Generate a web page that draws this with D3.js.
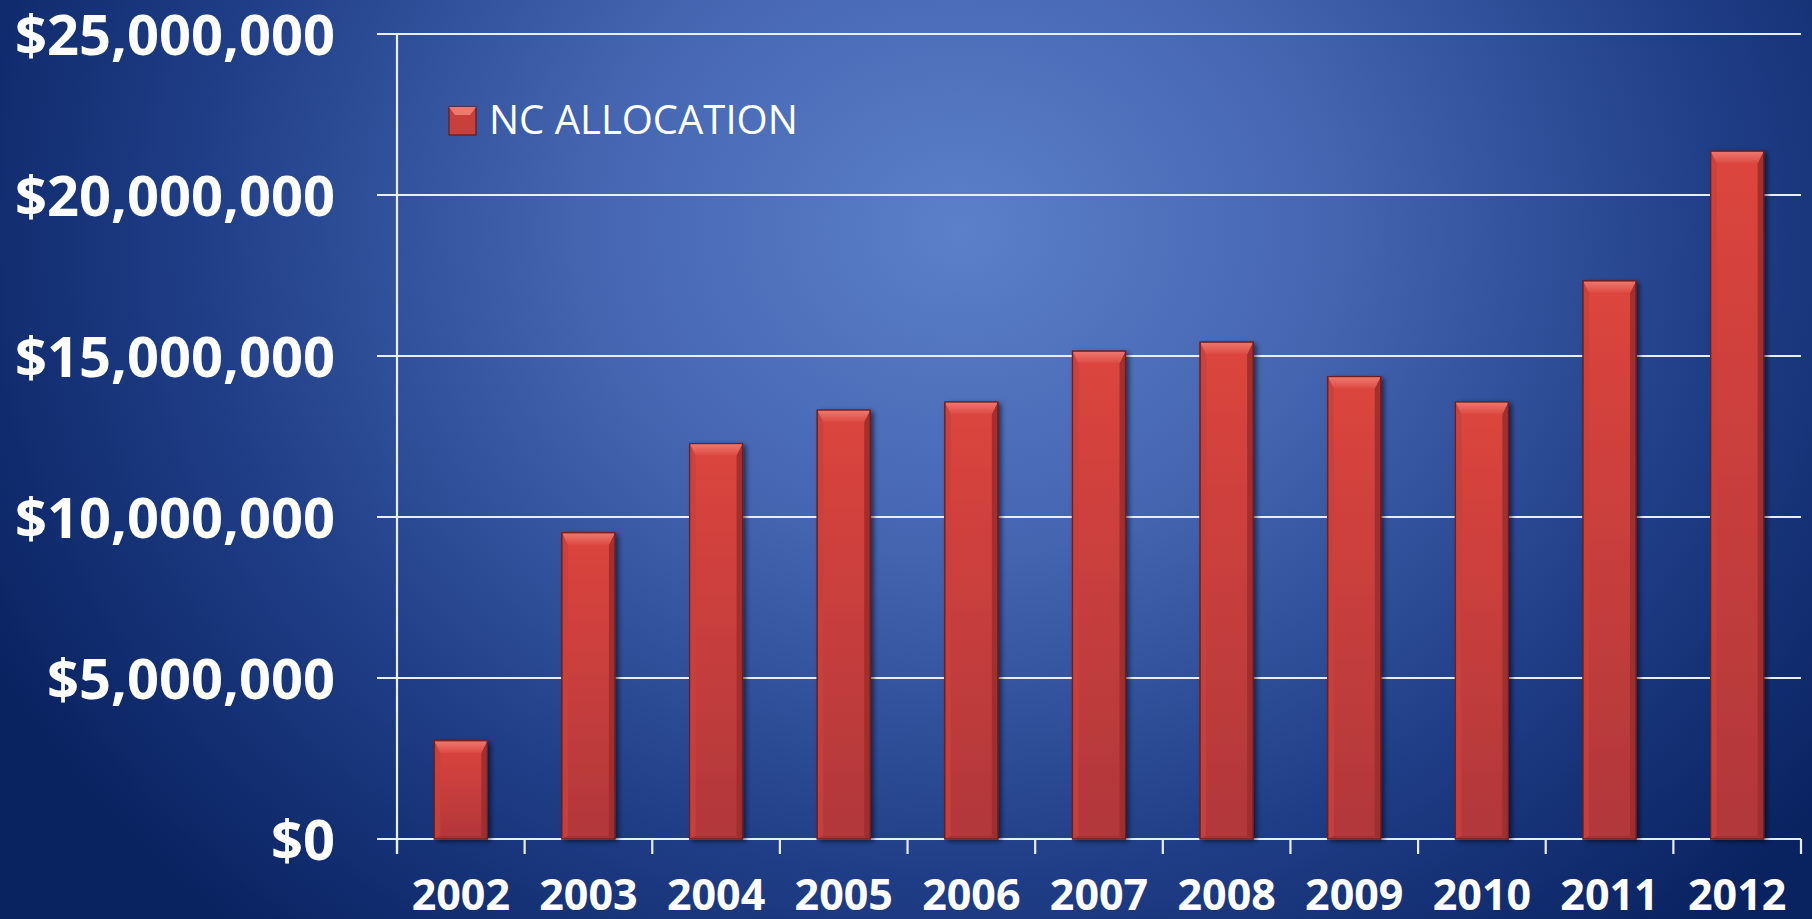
<!DOCTYPE html>
<html>
<head>
<meta charset="utf-8">
<script src="https://cdn.jsdelivr.net/npm/d3@7"></script>
<style>
  html, body { margin: 0; padding: 0; background: #0b2767; }
  svg { display: block; }
</style>
</head>
<body>
<svg id="chart" width="1812" height="919"></svg>
<script>
const years = ["2002","2003","2004","2005","2006","2007","2008","2009","2010","2011","2012"];
const allocation = [3050000, 9510000, 12280000, 13320000, 13570000, 15150000, 15430000, 14360000, 13570000, 17330000, 21360000];
const yTicks = [0, 5000000, 10000000, 15000000, 20000000, 25000000];
const yTickLabels = ["$0", "$5,000,000", "$10,000,000", "$15,000,000", "$20,000,000", "$25,000,000"];
const seriesName = "NC ALLOCATION";

const W = 1812, H = 919;
const svg = d3.select("#chart");
const defs = svg.append("defs");

// background
const bg = defs.append("radialGradient").attr("id", "bg")
  .attr("gradientUnits", "userSpaceOnUse")
  .attr("cx", 960).attr("cy", 230).attr("r", 1100)
  .attr("gradientTransform", "translate(960,230) scale(1,0.85) translate(-960,-230)");
bg.append("stop").attr("offset", "0").attr("stop-color", "#5c80ca");
bg.append("stop").attr("offset", "0.35").attr("stop-color", "#4464b0");
bg.append("stop").attr("offset", "0.7").attr("stop-color", "#1f3d86");
bg.append("stop").attr("offset", "1").attr("stop-color", "#092260");
svg.append("rect").attr("width", W).attr("height", H).attr("fill", "url(#bg)");

// bar gradients
const body = defs.append("linearGradient").attr("id", "barBody").attr("x1", 0).attr("y1", 0).attr("x2", 0).attr("y2", 1);
body.append("stop").attr("offset", "0").attr("stop-color", "#dc453e");
body.append("stop").attr("offset", "1").attr("stop-color", "#b1373a");
const topBevel = defs.append("linearGradient").attr("id", "topBevel").attr("x1", 0).attr("y1", 0).attr("x2", 0).attr("y2", 1);
topBevel.append("stop").attr("offset", "0").attr("stop-color", "#ee7a6f");
topBevel.append("stop").attr("offset", "1").attr("stop-color", "#dc4a42");
const shadow = defs.append("filter").attr("id", "shadow").attr("x", "-20%").attr("y", "-5%").attr("width", "150%").attr("height", "115%");
shadow.append("feDropShadow").attr("dx", 3).attr("dy", 2).attr("stdDeviation", 2.5).attr("flood-color", "#000").attr("flood-opacity", 0.55);

const x0 = 397, x1 = 1801, yTop = 34, yBase = 839;
const x = d3.scaleBand().domain(years).range([x0, x1]).paddingInner(0.585).paddingOuter(0.2925);
const y = d3.scaleLinear().domain([0, 25000000]).range([yBase, yTop]);

// gridlines
svg.append("g").selectAll("line").data(yTicks).join("line")
  .attr("x1", x0 - 20).attr("x2", x1)
  .attr("y1", d => y(d)).attr("y2", d => y(d))
  .attr("stroke", "#e8eef8").attr("stroke-width", 2.2);

// y axis line
svg.append("line").attr("x1", x0).attr("x2", x0).attr("y1", yTop).attr("y2", yBase + 15)
  .attr("stroke", "#e8eef8").attr("stroke-width", 2.2);

// x ticks at category boundaries
const bounds = d3.range(years.length + 1).map(i => x0 + i * x.step());
svg.append("g").selectAll("line").data(bounds).join("line")
  .attr("x1", d => d).attr("x2", d => d)
  .attr("y1", yBase).attr("y2", yBase + 15)
  .attr("stroke", "#e8eef8").attr("stroke-width", 2.2);

// bars
const data = years.map((yr, i) => ({ yr, v: allocation[i] }));
const bars = svg.append("g").selectAll("g").data(data).join("g");
bars.append("rect")
  .attr("x", d => x(d.yr)).attr("y", d => y(d.v))
  .attr("width", x.bandwidth()).attr("height", d => yBase - y(d.v))
  .attr("fill", "url(#barBody)").attr("stroke", "#6e1e1e").attr("stroke-width", 1.2)
  .attr("filter", "url(#shadow)");
const bv = 6, tb = 12;
bars.append("polygon").attr("points", d => {
  const l = x(d.yr), t = y(d.v);
  return [[l, t], [l + bv, t + tb], [l + bv, yBase - 3], [l, yBase]].join(" ");
}).attr("fill", "#c9403b").attr("opacity", 0.9);
bars.append("polygon").attr("points", d => {
  const r = x(d.yr) + x.bandwidth(), t = y(d.v);
  return [[r, t], [r - bv, t + tb], [r - bv, yBase - 3], [r, yBase]].join(" ");
}).attr("fill", "#9c2d2e").attr("opacity", 0.9);
bars.append("polygon").attr("points", d => {
  const l = x(d.yr), r = l + x.bandwidth();
  return [[l, yBase], [l + bv, yBase - 3], [r - bv, yBase - 3], [r, yBase]].join(" ");
}).attr("fill", "#a23233");
bars.append("polygon").attr("points", d => {
  const l = x(d.yr), r = l + x.bandwidth(), t = y(d.v);
  return [[l, t], [r, t], [r - bv, t + tb], [l + bv, t + tb]].join(" ");
}).attr("fill", "url(#topBevel)");
bars.append("rect")
  .attr("x", d => x(d.yr)).attr("y", d => y(d.v))
  .attr("width", x.bandwidth()).attr("height", d => yBase - y(d.v))
  .attr("fill", "none").attr("stroke", "#6e1e1e").attr("stroke-width", 1.2);

// y labels
svg.append("g").selectAll("text").data(yTicks).join("text")
  .attr("x", 335).attr("y", d => y(d))
  .attr("dy", "0.38em")
  .attr("text-anchor", "end")
  .attr("font-family", "'Open Sans', sans-serif").attr("font-weight", 700)
  .attr("font-size", 56).attr("fill", "#ffffff")
  .text((d, i) => yTickLabels[i]);

// x labels
svg.append("g").selectAll("text").data(years).join("text")
  .attr("x", d => x(d) + x.bandwidth() / 2).attr("y", 910)
  .attr("text-anchor", "middle")
  .attr("font-family", "'Open Sans', sans-serif").attr("font-weight", 700)
  .attr("font-size", 43).attr("fill", "#ffffff")
  .text(d => d);

// legend
const lg = svg.append("g");
lg.append("rect").attr("x", 449).attr("y", 107).attr("width", 27).attr("height", 28)
  .attr("fill", "#c8403b").attr("stroke", "#5e1c1c").attr("stroke-width", 1.2);
lg.append("polygon").attr("points", [[449,107],[476,107],[470,115],[455,115]].join(" ")).attr("fill", "#ee7a6f");
lg.append("text").attr("x", 489).attr("y", 134)
  .attr("font-family", "'Open Sans', sans-serif").attr("font-size", 40).attr("fill", "#ffffff")
  .text(seriesName);
</script>
</body>
</html>
